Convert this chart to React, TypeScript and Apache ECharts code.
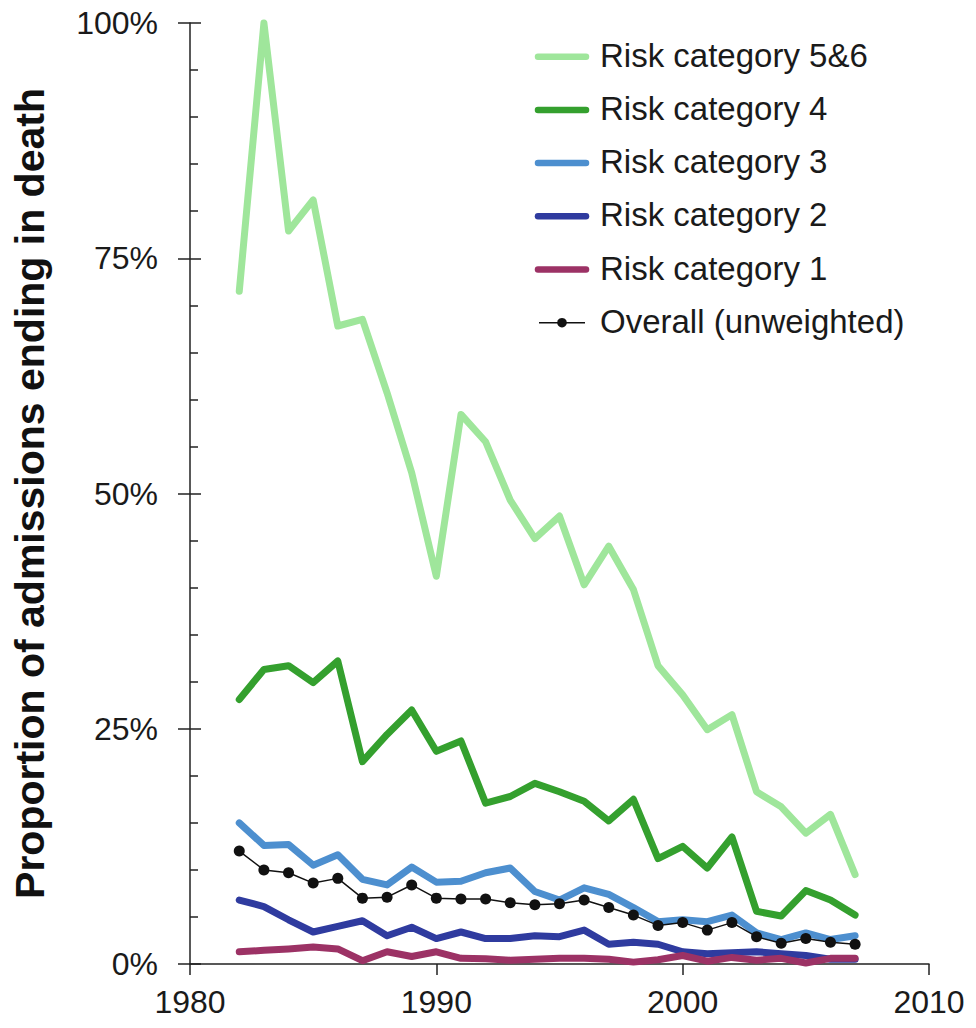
import React, { useEffect, useRef } from "react";
import * as echarts from "echarts";

const years = [1982, 1983, 1984, 1985, 1986, 1987, 1988, 1989, 1990, 1991, 1992, 1993, 1994, 1995, 1996, 1997, 1998, 1999, 2000, 2001, 2002, 2003, 2004, 2005, 2006, 2007];

const risk56 = [71.5, 100, 77.9, 81.2, 67.8, 68.5, 60.7, 52.2, 41.2, 58.4, 55.5, 49.3, 45.2, 47.6, 40.3, 44.4, 39.8, 31.7, 28.6, 24.9, 26.5, 18.3, 16.7, 13.9, 15.9, 9.5];
const risk4 = [28.1, 31.3, 31.7, 29.9, 32.2, 21.5, 24.4, 27.0, 22.6, 23.7, 17.1, 17.8, 19.2, 18.3, 17.3, 15.2, 17.5, 11.2, 12.5, 10.2, 13.5, 5.6, 5.1, 7.8, 6.8, 5.2];
const risk3 = [15.0, 12.6, 12.7, 10.5, 11.6, 9.0, 8.4, 10.3, 8.7, 8.8, 9.7, 10.2, 7.7, 6.8, 8.1, 7.4, 6.0, 4.5, 4.7, 4.5, 5.2, 3.3, 2.6, 3.3, 2.6, 3.0];
const risk2 = [6.8, 6.1, 4.7, 3.4, 4.0, 4.6, 3.0, 3.9, 2.7, 3.4, 2.7, 2.7, 3.0, 2.9, 3.6, 2.1, 2.3, 2.1, 1.3, 1.1, 1.2, 1.3, 1.1, 0.9, 0.5, 0.5];
const risk1 = [1.3, 1.45, 1.6, 1.8, 1.6, 0.35, 1.3, 0.8, 1.3, 0.6, 0.55, 0.4, 0.5, 0.6, 0.6, 0.5, 0.2, 0.45, 0.9, 0.3, 0.7, 0.4, 0.6, 0.1, 0.6, 0.6];
const overall = [12.0, 10.0, 9.7, 8.6, 9.1, 7.0, 7.1, 8.4, 7.0, 6.9, 6.9, 6.5, 6.3, 6.4, 6.8, 6.0, 5.2, 4.1, 4.4, 3.6, 4.4, 2.9, 2.2, 2.7, 2.3, 2.1];

const seriesNames = ["Risk category 5&6", "Risk category 4", "Risk category 3", "Risk category 2", "Risk category 1", "Overall (unweighted)"];
const seriesColors = ["#9fe69b", "#34a02e", "#4d8fcf", "#2f3b9f", "#9c3265", "#111111"];
const yTicks = [0, 25, 50, 75, 100];

const FONT = "'Liberation Sans', Arial, Helvetica, sans-serif";
const AXIS_COLOR = "#222";

export default function App() {
  const ref = useRef<HTMLDivElement>(null);
  useEffect(() => {
    if (!ref.current) return;
    const chart = echarts.init(ref.current, undefined, { renderer: "svg" });
    const allData = [risk56, risk4, risk3, risk2, risk1, overall];
    const series: any[] = allData.map((arr, idx) => {
      const isOverall = idx === 5;
      return {
        name: seriesNames[idx],
        type: "line",
        yAxisIndex: 0,
        data: years.map((y, i) => [y, arr[i]]),
        clip: false,
        color: seriesColors[idx],
        symbol: isOverall ? "circle" : "none",
        symbolSize: isOverall ? 11 : 0,
        showSymbol: isOverall,
        lineStyle: {
          width: isOverall ? 1.5 : 7,
          color: seriesColors[idx],
          cap: "round",
          join: "round",
        },
        itemStyle: { color: seriesColors[idx], borderWidth: 0 },
        emphasis: { disabled: true },
        z: 2 + idx,
      };
    });

    // legend drawn as graphic elements
    const legendTop = 56.7;
    const legendStep = 53.2;
    const legendEls: any[] = [];
    seriesNames.forEach((n, i) => {
      const y = legendTop + i * legendStep;
      const isOverall = i === 5;
      if (isOverall) {
        legendEls.push({
          type: "line",
          shape: { x1: 539, y1: y, x2: 585, y2: y },
          style: { stroke: seriesColors[i], lineWidth: 1.5 },
        });
        legendEls.push({
          type: "circle",
          shape: { cx: 562, cy: y, r: 4.8 },
          style: { fill: seriesColors[i] },
        });
      } else {
        legendEls.push({
          type: "line",
          shape: { x1: 538, y1: y, x2: 586, y2: y },
          style: { stroke: seriesColors[i], lineWidth: 6.5, lineCap: "round" },
        });
      }
      legendEls.push({
        type: "text",
        x: 600,
        y: y - 1.5,
        style: {
          text: n,
          font: `33px ${FONT}`,
          fill: "#1a1a1a",
          textVerticalAlign: "middle",
          verticalAlign: "middle",
          textAlign: "left",
        },
      });
    });

    chart.setOption({
      animation: false,
      backgroundColor: "#fff",
      textStyle: { fontFamily: FONT },
      grid: { left: 190, right: 47, top: 23, bottom: 64, containLabel: false },
      graphic: legendEls,
      xAxis: {
        type: "value",
        min: 1980,
        max: 2010,
        interval: 10,
        axisLine: { show: true, onZero: false, lineStyle: { color: AXIS_COLOR, width: 1.5 } },
        axisTick: { show: true, inside: false, length: 11, lineStyle: { color: AXIS_COLOR, width: 1.5 } },
        axisLabel: { fontSize: 32, color: "#1a1a1a", margin: 22, fontFamily: FONT, formatter: (v: number) => String(v) },
        splitLine: { show: false },
      },
      yAxis: [
        {
          type: "value",
          min: 0,
          max: 100,
          interval: 25,
          axisLine: { show: true, lineStyle: { color: AXIS_COLOR, width: 1.5 } },
          axisTick: { show: true, inside: true, length: 11, lineStyle: { color: AXIS_COLOR, width: 1.5 } },
          minorTick: { show: true, splitNumber: 5, length: 8, lineStyle: { color: AXIS_COLOR, width: 1.5 } },
          axisLabel: { show: false },
          splitLine: { show: false },
          minorSplitLine: { show: false },
        },
        {
          type: "value",
          min: 0,
          max: 100,
          interval: 25,
          axisLine: { show: false },
          axisTick: { show: true, inside: false, length: 12, lineStyle: { color: AXIS_COLOR, width: 1.5 } },
          axisLabel: {
            fontSize: 32,
            color: "#1a1a1a",
            margin: 32,
            fontFamily: FONT,
            formatter: (v: number) => (yTicks.includes(v) ? v + "%" : ""),
          },
          splitLine: { show: false },
          position: "left",
          offset: 0,
          name: "Proportion of admissions ending in death",
          nameLocation: "middle",
          nameGap: 140,
          nameRotate: 90,
          nameTextStyle: { fontSize: 41, fontWeight: "bold", color: "#111", fontFamily: FONT },
        },
      ],
      series,
    });
    return () => chart.dispose();
  }, []);
  return (
    <div
      ref={ref}
      style={{ position: "absolute", left: 0, top: 0, width: 976, height: 1028 }}
    />
  );
}
